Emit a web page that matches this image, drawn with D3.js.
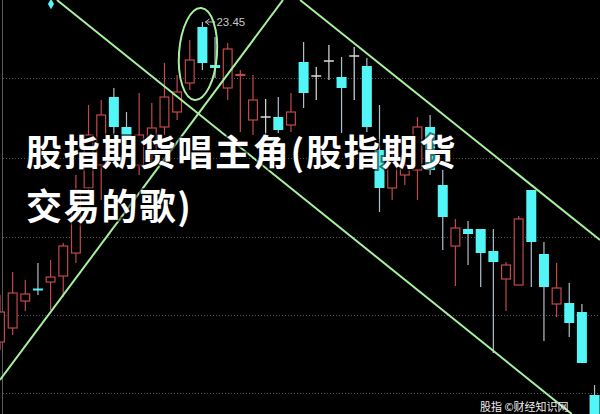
<!DOCTYPE html>
<html><head><meta charset="utf-8">
<script src="https://cdn.jsdelivr.net/npm/d3@7"></script>
<style>html,body{margin:0;padding:0;background:#000;overflow:hidden}svg{display:block}</style>
</head><body><svg id="c" width="600" height="414"></svg>
<script>
// ---- data (price units) ----
const opens  = [17.05,17.33,17.87,18.12,18.25,18.37,18.83,20.13,20.59,21.95,21.35,20.59,20.79,21.35,21.65,22.23,23.35,22.59,22.13,22.38,21.49,21.55,21.55,21.39,22.65,22.37,22.67,22.35,22.77,22.57,20.89,20.13,20.39,20.49,21.35,20.19,18.97,19.31,19.31,18.87,18.31,18.19,20.09,18.81,17.81,17.83,17.65,15.99];
const highs  = [17.99,18.45,18.29,18.63,18.69,19.03,20.39,21.79,21.89,22.13,21.65,22.03,21.83,22.63,22.39,23.09,23.45,23.15,23.03,22.49,22.39,21.91,21.95,22.03,23.05,22.55,22.99,22.75,22.95,22.73,21.79,21.09,20.79,21.55,21.59,20.49,19.51,19.47,19.31,19.31,18.65,19.57,20.09,19.05,18.63,18.23,17.81,16.19];
const lows   = [16.89,17.19,17.67,17.99,17.69,17.95,18.63,19.89,19.89,21.19,20.93,20.39,20.59,21.19,21.49,22.09,22.49,22.33,21.89,21.25,21.19,21.19,21.23,21.25,21.73,21.89,22.29,21.23,21.89,21.25,19.65,19.89,20.19,19.89,20.39,18.89,18.17,18.59,18.15,16.83,17.67,18.19,18.15,17.07,17.55,17.15,16.63,15.49];
const closes = [17.65,18.03,18.01,18.10,18.35,18.97,20.09,21.19,21.59,21.35,21.09,21.19,21.33,21.95,22.05,22.69,22.63,22.53,22.91,22.40,21.89,21.55,21.29,21.65,22.03,22.37,22.67,22.13,22.77,21.35,20.13,20.69,20.59,21.35,20.49,19.55,19.33,19.21,18.83,18.65,18.59,19.51,19.05,18.15,18.13,17.43,16.63,15.49];
const gridValues = [22.33, 20.73, 19.15, 17.59, 16.03];
const trendLines = [
  [[4.5, 23.89], [45.2, 15.61]],
  [[0, 16.29], [22.37, 23.89]],
  [[23.72, 23.89], [47.43, 19.09]]
];
const highIndex = 16, highValue = 23.45, highLabel = "23.45";
const markerPoint = [4.03, 23.81];
const ellipseSpec = {cx: 15.65, cy: 22.81, rx: 1.5, ry: 0.92};
const titleLines = ["股指期货唱主角(股指期货", "交易的歌)"];
const watermark = "股指 ©财经知识网";

// ---- scales ----
const W = 600, H = 414;
const x = d3.scaleLinear().domain([0, 47]).range([0, 594.55]);
const y = d3.scaleLinear().domain([15.61, 23.89]).range([H, 0]);
const svg = d3.select("#c");
svg.append("rect").attr("width", W).attr("height", H).attr("fill", "#000");

const UP = "#c2494b", DOWN = "#52f6f6", DOWNWICK = "#aebfcc", FLAT = "#dcdcdc";
const bw = 10;

// grid
svg.append("g").selectAll("line").data(gridValues).join("line")
  .attr("x1", 3).attr("x2", W).attr("y1", d => Math.round(y(d)) + 0.5).attr("y2", d => Math.round(y(d)) + 0.5)
  .attr("stroke", "#555").attr("stroke-width", 1).attr("stroke-dasharray", "1,2");
svg.append("line").attr("x1", 2.5).attr("x2", 2.5).attr("y1", 0).attr("y2", H)
  .attr("stroke", "#5a5a5a").attr("stroke-width", 1);

// candles
const data = opens.map((o, i) => ({i, o, h: highs[i], l: lows[i], c: closes[i]}));
const g = svg.append("g");
data.forEach(d => {
  const cx = x(d.i);
  const top = y(Math.max(d.o, d.c)), bot = y(Math.min(d.o, d.c));
  const hy = y(d.h), ly = y(d.l);
  if (d.c > d.o) {
    g.append("line").attr("x1", cx).attr("x2", cx).attr("y1", hy).attr("y2", top).attr("stroke", UP).attr("stroke-width", 1.2);
    g.append("line").attr("x1", cx).attr("x2", cx).attr("y1", bot).attr("y2", ly).attr("stroke", UP).attr("stroke-width", 1.2);
    g.append("rect").attr("x", cx - bw/2 + 0.6).attr("y", top).attr("width", bw - 1.2).attr("height", Math.max(bot - top, 1))
      .attr("fill", "#000").attr("stroke", UP).attr("stroke-width", 1.2);
  } else if (d.c < d.o) {
    g.append("line").attr("x1", cx).attr("x2", cx).attr("y1", hy).attr("y2", ly).attr("stroke", DOWNWICK).attr("stroke-width", 1.2);
    g.append("rect").attr("x", cx - bw/2).attr("y", top).attr("width", bw).attr("height", Math.max(bot - top, 2))
      .attr("fill", DOWN);
  } else {
    g.append("line").attr("x1", cx).attr("x2", cx).attr("y1", hy).attr("y2", ly).attr("stroke", FLAT).attr("stroke-width", 1.2);
    g.append("line").attr("x1", cx - bw/2).attr("x2", cx + bw/2).attr("y1", top).attr("y2", top).attr("stroke", FLAT).attr("stroke-width", 1.5);
  }
});

// marker diamond
svg.append("path").attr("d", d3.symbol(d3.symbolDiamond, 32)())
  .attr("transform", `translate(${x(markerPoint[0])},${y(markerPoint[1])})`).attr("fill", DOWN);

// high label
const hx = x(highIndex), hyy = y(highValue);
svg.append("line").attr("x1", hx + 3).attr("x2", hx + 13).attr("y1", hyy).attr("y2", hyy).attr("stroke", "#bbb").attr("stroke-width", 1);
svg.append("path").attr("d", `M${hx+3},${hyy} l4,-3 M${hx+3},${hyy} l4,3`).attr("stroke", "#bbb").attr("fill", "none");
svg.append("text").attr("x", hx + 14).attr("y", hyy + 4).text(highLabel)
  .attr("fill", "#c8c8c8").attr("font-family", "Liberation Sans, Arial, sans-serif").attr("font-size", 11.5);

// trend lines
const lineGen = d3.line().x(p => x(p[0])).y(p => y(p[1]));
svg.append("g").selectAll("path").data(trendLines).join("path")
  .attr("d", lineGen).attr("fill", "none").attr("stroke", "#a8f0a0").attr("stroke-width", 2);

// ellipse
const ecx = x(ellipseSpec.cx), ecy = y(ellipseSpec.cy);
svg.append("ellipse").attr("cx", ecx).attr("cy", ecy)
  .attr("rx", x(ellipseSpec.rx) - x(0)).attr("ry", y(0) - y(ellipseSpec.ry))
  .attr("transform", `rotate(4,${ecx},${ecy})`)
  .attr("fill", "none").attr("stroke", "#a8f0a0").attr("stroke-width", 2);

// title
const t = svg.append("g");
titleLines.forEach((s, k) => {
  t.append("text").attr("x", 26).attr("y", 166 + k * 54).text(s)
    .attr("font-family", "'Noto Sans CJK SC', 'Noto Sans', sans-serif").attr("font-weight", 700)
    .attr("font-size", 36).attr("fill", "#fff")
    .attr("stroke", "rgba(0,0,0,0.55)").attr("stroke-width", 4).attr("paint-order", "stroke")
    .attr("letter-spacing", 1.8);
});

// watermark
svg.append("text").attr("x", 480).attr("y", 411).text(watermark)
  .attr("font-family", "'Noto Sans CJK SC', sans-serif").attr("font-size", 11).attr("fill", "#eee");
</script>
</body></html>
